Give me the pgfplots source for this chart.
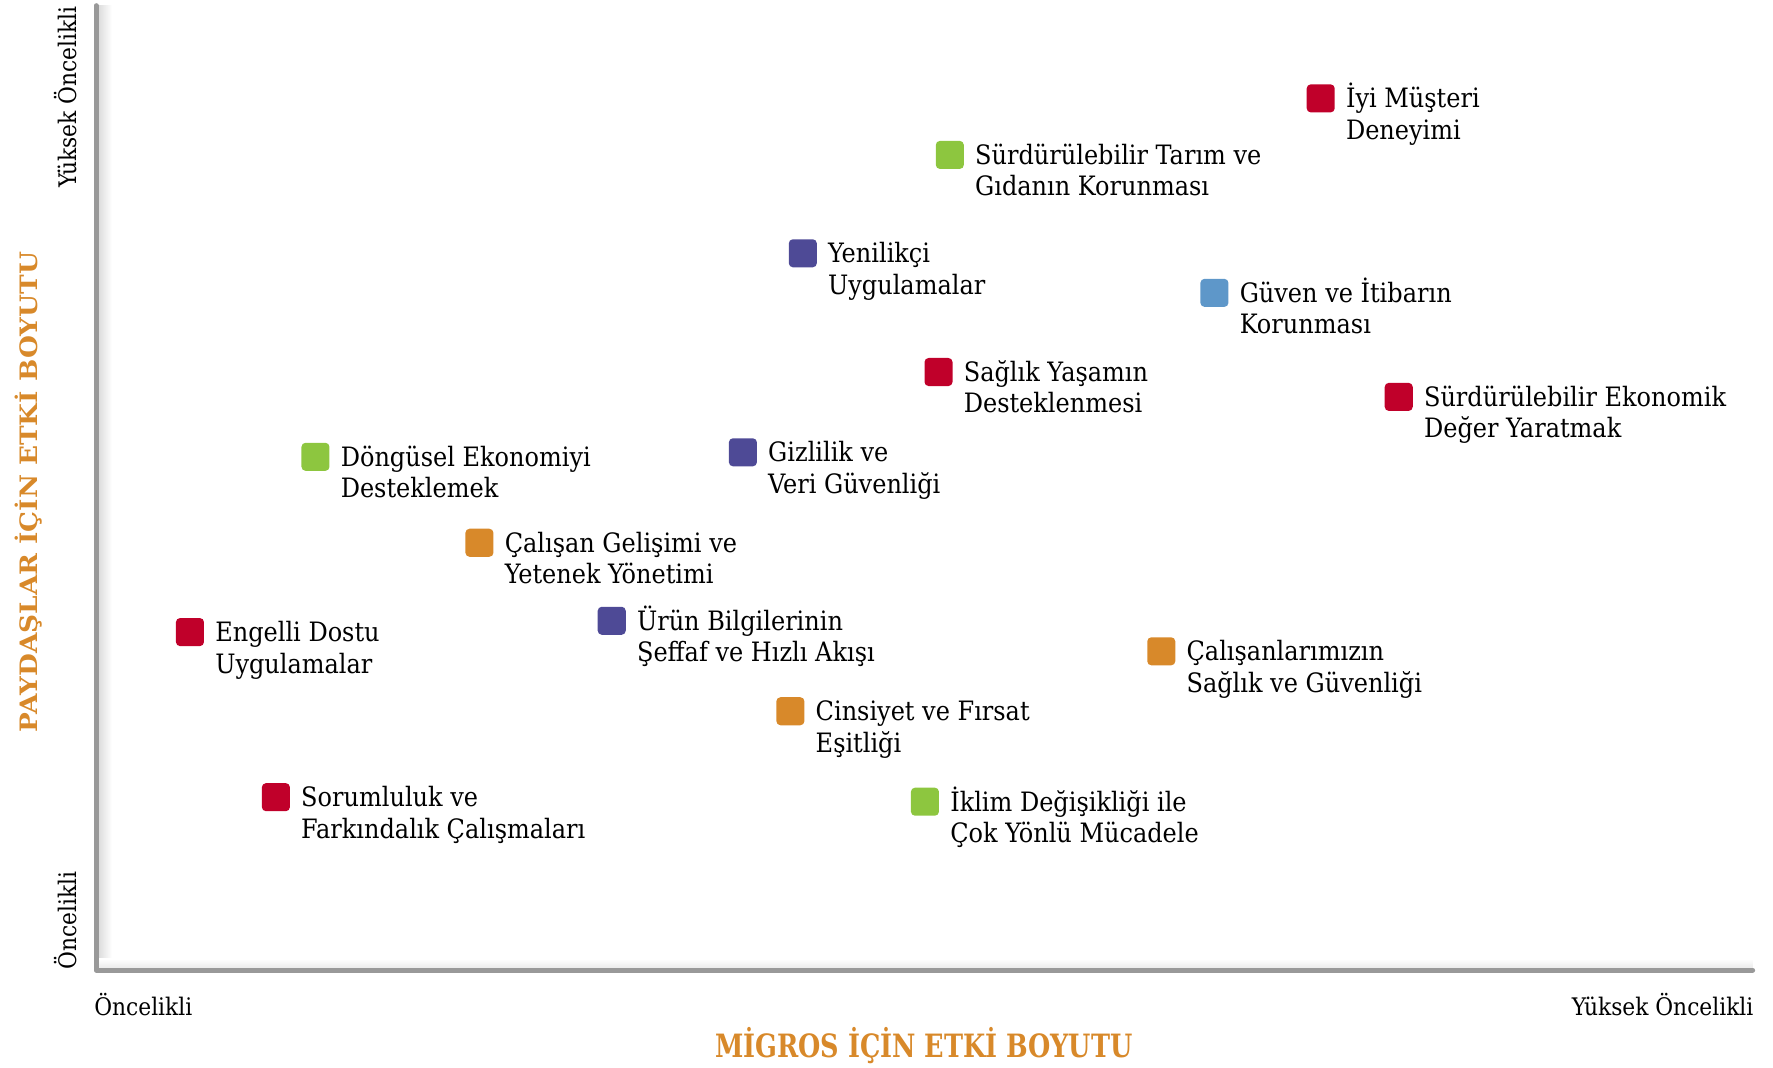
\documentclass[border=0pt]{standalone}
\usepackage{fontspec}
\setmainfont{DejaVu Serif Condensed}
\usepackage{pgfplots}
\pgfplotsset{compat=1.18}
\definecolor{cred}{HTML}{C0002A}
\definecolor{cgreen}{HTML}{8DC63F}
\definecolor{cpurple}{HTML}{4E4A96}
\definecolor{cblue}{HTML}{5E97C9}
\definecolor{corange}{HTML}{D8892A}
\definecolor{axgray}{HTML}{999999}
\pgfdeclareplotmark{rsq}{%
  \pgfpathmoveto{\pgfqpoint{-4.4pt}{-6.2pt}}%
  \pgfpathlineto{\pgfqpoint{4.4pt}{-6.2pt}}%
  \pgfpathcurveto{\pgfqpoint{5.39pt}{-6.2pt}}{\pgfqpoint{6.2pt}{-5.39pt}}{\pgfqpoint{6.2pt}{-4.4pt}}%
  \pgfpathlineto{\pgfqpoint{6.2pt}{4.4pt}}%
  \pgfpathcurveto{\pgfqpoint{6.2pt}{5.39pt}}{\pgfqpoint{5.39pt}{6.2pt}}{\pgfqpoint{4.4pt}{6.2pt}}%
  \pgfpathlineto{\pgfqpoint{-4.4pt}{6.2pt}}%
  \pgfpathcurveto{\pgfqpoint{-5.39pt}{6.2pt}}{\pgfqpoint{-6.2pt}{5.39pt}}{\pgfqpoint{-6.2pt}{4.4pt}}%
  \pgfpathlineto{\pgfqpoint{-6.2pt}{-4.4pt}}%
  \pgfpathcurveto{\pgfqpoint{-6.2pt}{-5.39pt}}{\pgfqpoint{-5.39pt}{-6.2pt}}{\pgfqpoint{-4.4pt}{-6.2pt}}%
  \pgfpathclose
  \pgfusepathqfill}
\begin{document}
\begin{tikzpicture}
\begin{axis}[x=0.5pt, y=0.5pt, xmin=85, xmax=1550, ymin=86, ymax=939,
  axis lines=none, clip=false,
  only marks, mark=rsq, mark size=6.2pt,
  point meta=explicit symbolic, nodes near coords,
  every node near coord/.append style={anchor=base west, xshift=11pt, yshift=-18.1pt,
    align=left, inner sep=0pt, text=black, font=\fontsize{11.8}{13.9}\selectfont}]
\path (axis cs:0,0) rectangle (axis cs:1568,944);
\shade[left color=black!16, right color=white] (axis cs:85,86) rectangle (axis cs:99,939);
\shade[bottom color=black!10, top color=white] (axis cs:85,86) rectangle (axis cs:1550,96);
\draw[line width=2.2pt, color=axgray, line cap=round, line join=round]
  (axis cs:85,939) -- (axis cs:85,86) -- (axis cs:1550,86);
\addplot[color=cred, fill=cred] coordinates {
  (1168,857) [İyi Müşteri\\Deneyimi]
  (830,615) [Sağlık Yaşamın\\Desteklenmesi]
  (1237,593) [Sürdürülebilir Ekonomik\\Değer Yaratmak]
  (168,385) [Engelli Dostu\\Uygulamalar]
  (244,239) [Sorumluluk ve\\Farkındalık Çalışmaları]
};
\addplot[color=cgreen, fill=cgreen] coordinates {
  (840,807) [Sürdürülebilir Tarım ve\\Gıdanın Korunması]
  (279,540) [Döngüsel Ekonomiyi\\Desteklemek]
  (818,235) [İklim Değişikliği ile\\Çok Yönlü Mücadele]
};
\addplot[color=cpurple, fill=cpurple] coordinates {
  (710,720) [Yenilikçi\\Uygulamalar]
  (657,544) [Gizlilik ve\\Veri Güvenliği]
  (541,395) [Ürün Bilgilerinin\\Şeffaf ve Hızlı Akışı]
};
\addplot[color=cblue, fill=cblue] coordinates {
  (1074,685) [Güven ve İtibarın\\Korunması]
};
\addplot[color=corange, fill=corange] coordinates {
  (424,464) [Çalışan Gelişimi ve\\Yetenek Yönetimi]
  (1027,368) [Çalışanlarımızın\\Sağlık ve Güvenliği]
  (699,315) [Cinsiyet ve Fırsat\\Eşitliği]
};
\node[rotate=90, anchor=east, inner sep=0pt, font=\fontsize{10.7}{12}\selectfont] at (axis cs:58,939) {Yüksek Öncelikli};
\node[rotate=90, anchor=west, inner sep=0pt, font=\fontsize{10.7}{12}\selectfont] at (axis cs:58,86) {Öncelikli};
\node[anchor=west, inner sep=0pt, font=\fontsize{10.7}{12}\selectfont] at (axis cs:83,56) {Öncelikli};
\node[anchor=east, inner sep=0pt, font=\fontsize{10.7}{12}\selectfont] at (axis cs:1551,56) {Yüksek Öncelikli};
\node[inner sep=0pt, text=corange, font=\bfseries\fontsize{14.2}{16}\selectfont] at (axis cs:817,19) {\scalebox{0.885}[1]{MİGROS İÇİN ETKİ BOYUTU}};
\node[rotate=90, inner sep=0pt, text=corange, font=\bfseries\fontsize{10.6}{12}\selectfont] at (axis cs:25,509) {\scalebox{1.22}[1]{PAYDAŞLAR İÇİN ETKİ BOYUTU}};
\end{axis}
\end{tikzpicture}
\end{document}
